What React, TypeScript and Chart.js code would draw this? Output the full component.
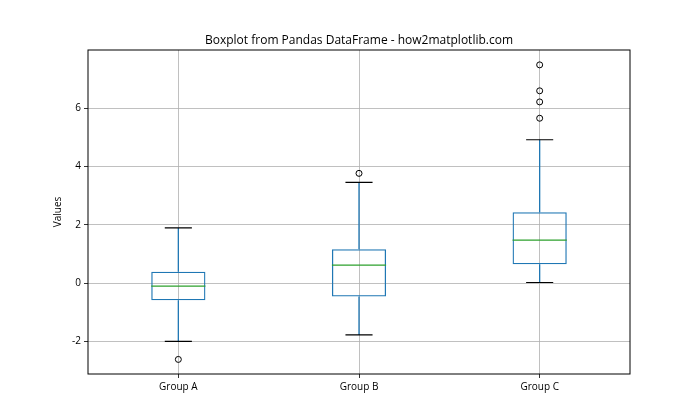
import React, { useEffect, useRef } from "react";
import { Chart, registerables } from "chart.js";

Chart.register(...registerables);

const categories = ["Group A", "Group B", "Group C"];
const q1Values = [-0.58, -0.45, 0.65];
const q3Values = [0.4, 1.17, 2.44];
const medianValues = [-0.1, 0.62, 1.48];
const whiskerLowValues = [-1.99, -1.77, 0.03];
const whiskerHighValues = [1.9, 3.46, 4.92];
const outlierGroups = ["Group A", "Group B", "Group C", "Group C", "Group C", "Group C"];
const outlierValues = [-2.61, 3.77, 7.49, 6.6, 6.22, 5.66];
const yTickValues = [-2, 0, 2, 4, 6];
const yMin = -3.11;
const yMax = 8.0;
const titleText = "Boxplot from Pandas DataFrame - how2matplotlib.com";

const FONT = "'Open Sans', 'Noto Sans', sans-serif";

const boxPlugin = {
  id: "boxExtras",
  afterDatasetsDraw(chart: any) {
    const { ctx, scales } = chart;
    const xs = scales.x;
    const ys = scales.y;
    const meta = chart.getDatasetMeta(0);
    ctx.save();
    categories.forEach((_, i) => {
      const cx = xs.getPixelForValue(i);
      const el = meta.data[i];
      const bw = el && el.width ? el.width : 54;
      const capHalf = bw / 4;
      ctx.strokeStyle = "#1f77b4";
      ctx.lineWidth = 1.3;
      ctx.beginPath();
      ctx.moveTo(cx, ys.getPixelForValue(q1Values[i]));
      ctx.lineTo(cx, ys.getPixelForValue(whiskerLowValues[i]));
      ctx.moveTo(cx, ys.getPixelForValue(q3Values[i]));
      ctx.lineTo(cx, ys.getPixelForValue(whiskerHighValues[i]));
      ctx.stroke();
      ctx.strokeStyle = "#000";
      ctx.lineWidth = 1.1;
      ctx.beginPath();
      const yl = ys.getPixelForValue(whiskerLowValues[i]);
      const yh = ys.getPixelForValue(whiskerHighValues[i]);
      ctx.moveTo(cx - capHalf, yl);
      ctx.lineTo(cx + capHalf, yl);
      ctx.moveTo(cx - capHalf, yh);
      ctx.lineTo(cx + capHalf, yh);
      ctx.stroke();
      ctx.strokeStyle = "#2ca02c";
      ctx.lineWidth = 1.3;
      ctx.beginPath();
      const ym = ys.getPixelForValue(medianValues[i]);
      ctx.moveTo(cx - bw / 2, ym);
      ctx.lineTo(cx + bw / 2, ym);
      ctx.stroke();
    });
    ctx.restore();
  },
  afterDraw(chart: any) {
    const { ctx, chartArea } = chart;
    ctx.save();
    ctx.strokeStyle = "#000";
    ctx.lineWidth = 1;
    ctx.strokeRect(
      chartArea.left,
      chartArea.top,
      chartArea.right - chartArea.left,
      chartArea.bottom - chartArea.top
    );
    ctx.fillStyle = "#000";
    ctx.font = `12px ${FONT}`;
    ctx.textAlign = "center";
    ctx.textBaseline = "alphabetic";
    ctx.fillText(titleText, (chartArea.left + chartArea.right) / 2, 44);
    ctx.restore();
  },
};

export default function App() {
  const ref = useRef<HTMLCanvasElement | null>(null);

  useEffect(() => {
    document.body.style.margin = "0";
    if (!ref.current) return;
    const chart = new Chart(ref.current, {
      type: "bar",
      data: {
        labels: categories,
        datasets: [
          {
            type: "bar",
            label: "box",
            data: categories.map((_, i) => [q1Values[i], q3Values[i]]) as any,
            backgroundColor: "rgba(0,0,0,0)",
            borderColor: "#1f77b4",
            borderWidth: 1.3,
            borderSkipped: false,
            barPercentage: 0.3,
            categoryPercentage: 1,
            grouped: false,
            order: 2,
          } as any,
          {
            type: "line",
            label: "outliers",
            data: outlierGroups.map((g, i) => ({ x: g, y: outlierValues[i] })) as any,
            showLine: false,
            pointStyle: "circle",
            pointRadius: 3,
            pointBorderWidth: 1,
            pointBorderColor: "#000",
            pointBackgroundColor: "rgba(0,0,0,0)",
            order: 1,
          } as any,
        ],
      },
      options: {
        animation: false,
        responsive: false,
        devicePixelRatio: 1,
        layout: { padding: { left: 0, right: 70, top: 50, bottom: 0 } },
        plugins: {
          legend: { display: false },
          tooltip: { enabled: false },
          title: { display: false },
        },
        scales: {
          x: {
            type: "category",
            offset: true,
            grid: {
              offset: false,
              color: "#b0b0b0",
              lineWidth: 0.8,
              tickLength: 4,
              tickColor: "#000",
            },
            border: { display: false },
            ticks: {
              color: "#000",
              font: { family: FONT, size: 10 },
              padding: 3,
              maxRotation: 0,
            },
            afterFit: (scale: any) => {
              scale.height = 46;
            },
          },
          y: {
            type: "linear",
            min: yMin,
            max: yMax,
            grid: {
              color: "#b0b0b0",
              lineWidth: 0.8,
              tickLength: 4,
              tickColor: "#000",
            },
            border: { display: false },
            afterBuildTicks: (scale: any) => {
              scale.ticks = yTickValues.map((v) => ({ value: v }));
            },
            ticks: {
              color: "#000",
              font: { family: FONT, size: 10 },
              padding: 3,
              callback: (v: any) => String(v),
            },
            title: {
              display: true,
              text: "Values",
              color: "#000",
              font: { family: FONT, size: 10 },
              padding: { top: 52, bottom: 0 },
            },
            afterFit: (scale: any) => {
              scale.width = 88;
            },
          },
        },
      },
      plugins: [boxPlugin],
    });
    return () => chart.destroy();
  }, []);

  return (
    <div style={{ width: 700, height: 420 }}>
      <canvas ref={ref} width={700} height={420} />
    </div>
  );
}
